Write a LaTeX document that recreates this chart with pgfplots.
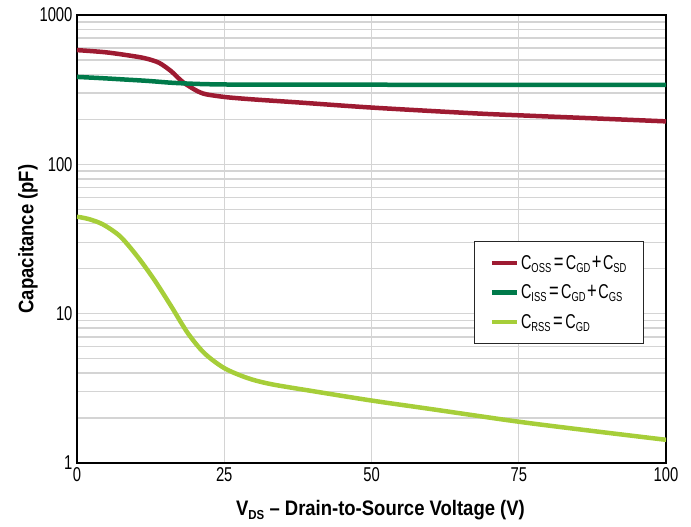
\documentclass[border=0pt]{standalone}
\usepackage{pgfplots}
\pgfplotsset{compat=1.18}
\usepackage{fontspec}
\setmainfont{Liberation Sans}
\newfontfamily\condensed[FakeStretch=0.74]{Liberation Sans}
\newfontfamily\legfont[FakeStretch=0.72]{Liberation Sans}
\newfontfamily\labelfont[FakeStretch=0.88]{Liberation Sans}
\definecolor{cred}{HTML}{9E1B32}
\definecolor{cgreen}{HTML}{007A4A}
\definecolor{clime}{HTML}{A6CE39}
\definecolor{gridgray}{HTML}{D4D4D4}
\newcommand{\sub}[1]{\raisebox{-0.3ex}{\fontsize{13}{14}\selectfont #1}}
\newcommand{\xsub}[1]{\raisebox{-0.3ex}{\fontsize{13}{14}\selectfont #1}}
\newcommand{\eq}{\hspace{2.5pt}{\fontsize{23}{24}\selectfont =}\hspace{2.5pt}}
\newcommand{\pl}{\hspace{1.5pt}{\fontsize{23}{24}\selectfont +}\hspace{1.5pt}}
\begin{document}
\begin{tikzpicture}
\begin{axis}[
  name=ax,
  scale only axis,
  width=589pt, height=448pt,
  xmin=0, xmax=100,
  ymode=log, ymin=1, ymax=1000,
  xtick={0,25,50,75,100},
  xticklabels={0,25,50,75,100},
  ytick={1,10,100,1000},
  yticklabels={1,10,100,1000},
  minor ytick={2,3,4,5,6,7,8,9,20,30,40,50,60,70,80,90,200,300,400,500,600,700,800,900},
  xmajorgrids, ymajorgrids, yminorgrids,
  major grid style={gridgray, line width=1.4pt},
  minor grid style={gridgray, line width=1.4pt},
  major tick length=0pt, minor tick length=0pt,
  axis line style={black, line width=1.6pt},
  tick label style={font=\condensed\fontsize{20}{22}\selectfont},
  xticklabel style={yshift=-1pt},
  yticklabel style={xshift=-1pt},
  xlabel={\labelfont\bfseries V\xsub{DS} \textendash\ Drain-to-Source Voltage (V)},
  ylabel={\labelfont\bfseries Capacitance (pF)},
  label style={font=\fontsize{21}{23}\selectfont},
  xlabel style={yshift=-12pt, xshift=9pt},
  ylabel style={yshift=-5pt},
  legend style={at={(0.674,0.496)}, anchor=north west, draw=black!85, line width=1.2pt,
    font=\legfont\fontsize{20}{22}\selectfont, inner xsep=15pt, inner ysep=12pt,
    row sep=10pt, fill=white},
  legend cell align=left,
  legend image code/.code={\draw[#1, line width=4.5pt] (0pt,0pt) -- (25pt,0pt);},
]
\addplot[cred, line width=4.5pt, smooth, tension=0.5] coordinates {
(0,582) (5,562) (10,527) (12,508) (14,477) (16,420) (17,385) (18,355) (19,334) (20,316) (21,302) (22,294) (24,286) (26,280) (30,272) (38,259) (50,240) (67,220) (75,213) (88,203) (100,194)};
\addlegendentry{C\sub{OSS}\eq C\sub{GD}\pl C\sub{SD}}
\addplot[cgreen, line width=4.5pt, smooth, tension=0.5] coordinates {
(0,385) (4,378) (8,370) (12,362) (16,352) (20,346) (24,343) (30,342) (60,341) (100,341)};
\addlegendentry{C\sub{ISS}\eq C\sub{GD}\pl C\sub{GS}}
\addplot[clime, line width=4.5pt, smooth, tension=0.5] coordinates {
(0,44.6) (2,43) (4.4,39.6) (7.3,33) (10.2,24.3) (13.1,16.9) (16,11.2) (18.8,7.42) (21.6,5.45) (25,4.32) (29,3.70) (33,3.37) (40,3.03) (50,2.62) (60,2.3) (75,1.89) (88,1.63) (100,1.43)};
\addlegendentry{C\sub{RSS}\eq C\sub{GD}}
\end{axis}
\pgfresetboundingbox
\useasboundingbox ([xshift=-77pt,yshift=15pt]ax.north west) rectangle ([xshift=25pt,yshift=-64pt]ax.south east);
\end{tikzpicture}
\end{document}
